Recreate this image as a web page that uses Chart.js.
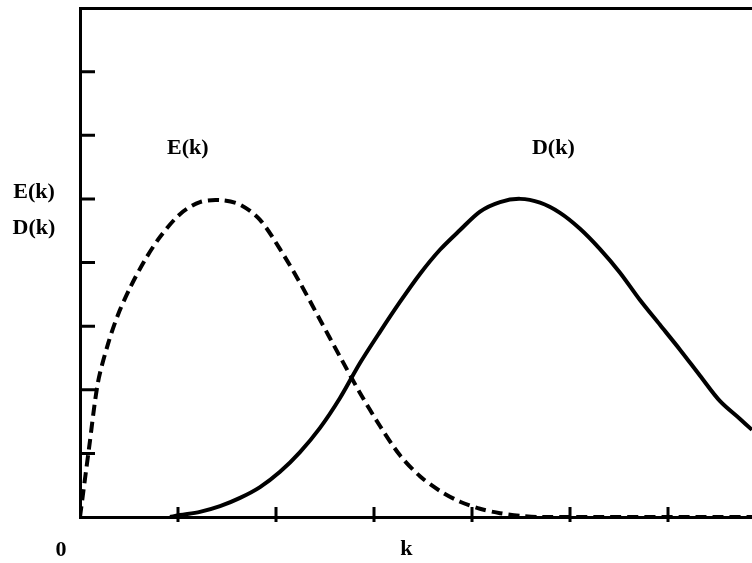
<!DOCTYPE html>
<html>
<head>
<meta charset="utf-8">
<script src="https://cdn.jsdelivr.net/npm/chart.js@4"></script>
<style>
  html, body { margin: 0; padding: 0; background: #fff; }
  #chart { display: block; }
</style>
</head>
<body>
<canvas id="chart" width="752" height="563"></canvas>
<script>
// E(k) - dashed curve
const eK   = [0, 0.092, 0.184, 0.286, 0.388, 0.510, 0.663, 0.816, 1.020, 1.224, 1.429, 1.633, 1.837, 2.041, 2.245, 2.449, 2.653, 2.857, 3.061, 3.265, 3.469, 3.673, 3.878, 4.082, 4.286, 4.490, 4.694, 6.857];
const eVal = [0, 1.08, 2.12, 2.72, 3.18, 3.60, 4.04, 4.40, 4.76, 4.95, 4.98, 4.91, 4.67, 4.21, 3.68, 3.10, 2.52, 1.95, 1.43, 0.97, 0.64, 0.41, 0.24, 0.13, 0.06, 0.02, 0, 0];

// D(k) - solid curve
const dK   = [0.918, 1.020, 1.224, 1.429, 1.633, 1.837, 2.041, 2.245, 2.449, 2.653, 2.857, 3.061, 3.265, 3.469, 3.673, 3.878, 4.082, 4.286, 4.490, 4.694, 4.898, 5.102, 5.306, 5.510, 5.714, 5.918, 6.122, 6.327, 6.531, 6.735, 6.857];
const dVal = [0, 0.03, 0.08, 0.17, 0.30, 0.47, 0.71, 1.02, 1.40, 1.87, 2.42, 2.91, 3.38, 3.82, 4.20, 4.51, 4.80, 4.95, 5.00, 4.94, 4.78, 4.53, 4.21, 3.84, 3.41, 3.02, 2.63, 2.22, 1.82, 1.54, 1.37];

const yTicks = [1, 2, 3, 4, 5, 6, 7];
const xTicks = [1, 2, 3, 4, 5, 6];

const textFont = 'bold 22px "Liberation Serif", "DejaVu Serif", serif';

function toPoints(xs, ys) {
    return xs.map((x, i) => ({ x: x, y: ys[i] }));
}

// tick marks drawn inward / across the axes, plus the text labels
const decorations = {
    id: 'decorations',
    afterDraw(chart) {
        const ctx = chart.ctx;
        const area = chart.chartArea;
        const xs = chart.scales.x;
        const ys = chart.scales.y;
        ctx.save();
        ctx.strokeStyle = '#000';
        ctx.lineWidth = 3;
        ctx.beginPath();
        yTicks.forEach(v => {
            const py = ys.getPixelForValue(v);
            ctx.moveTo(area.left, py);
            ctx.lineTo(area.left + 15, py);
        });
        xTicks.forEach(v => {
            const px = xs.getPixelForValue(v);
            ctx.moveTo(px, area.bottom - 10);
            ctx.lineTo(px, area.bottom + 5);
        });
        ctx.stroke();

        ctx.fillStyle = '#000';
        ctx.font = textFont;
        ctx.textAlign = 'center';
        ctx.textBaseline = 'middle';
        ctx.fillText('E(k)', xs.getPixelForValue(1.1), ys.getPixelForValue(5.8));
        ctx.fillText('D(k)', xs.getPixelForValue(4.83), ys.getPixelForValue(5.8));
        ctx.fillText('E(k)', area.left - 46, ys.getPixelForValue(5.11));
        ctx.fillText('D(k)', area.left - 46, ys.getPixelForValue(4.54));
        ctx.fillText('0', area.left - 19, area.bottom + 33);
        ctx.fillText('k', xs.getPixelForValue(3.33), area.bottom + 32);
        ctx.restore();
    }
};

const ctx = document.getElementById('chart').getContext('2d');

const chart = new Chart(ctx, {
    type: 'line',
    data: {
        datasets: [{
            label: 'E(k)',
            data: toPoints(eK, eVal),
            borderColor: '#000',
            borderWidth: 4,
            borderDash: [11, 6],
            pointRadius: 0,
            tension: 0.3,
            fill: false
        }, {
            label: 'D(k)',
            data: toPoints(dK, dVal),
            borderColor: '#000',
            borderWidth: 4,
            pointRadius: 0,
            tension: 0.3,
            fill: false
        }]
    },
    options: {
        responsive: false,
        animation: false,
        layout: {
            padding: { left: 72, top: 0, right: 0, bottom: 38 }
        },
        plugins: {
            legend: { display: false },
            tooltip: { enabled: false }
        },
        scales: {
            x: {
                type: 'linear',
                min: 0,
                max: 6.857,
                grid: { display: false },
                ticks: { display: false },
                border: { display: true, color: '#000', width: 3 }
            },
            x2: {
                type: 'linear',
                position: 'top',
                display: true,
                min: 0,
                max: 6.857,
                grid: { display: false },
                ticks: { display: false },
                border: { display: true, color: '#000', width: 3 }
            },
            y: {
                min: 0,
                max: 8,
                grid: { display: false },
                ticks: { display: false },
                border: { display: true, color: '#000', width: 3 }
            }
        }
    },
    plugins: [decorations]
});
</script>
</body>
</html>
